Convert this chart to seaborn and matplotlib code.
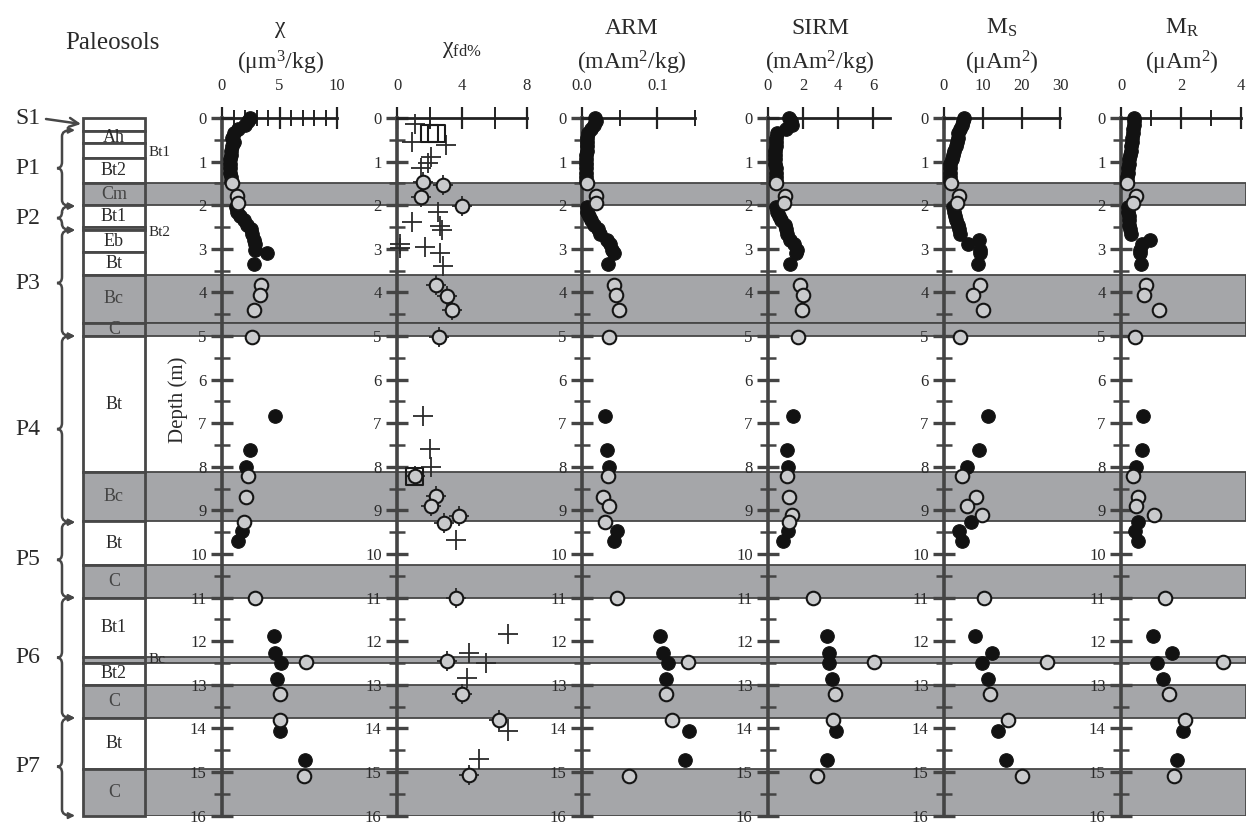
import numpy as np
import matplotlib
matplotlib.use("Agg")
import matplotlib.pyplot as plt
import matplotlib.transforms as mtransforms
from matplotlib.path import Path
from matplotlib.patches import PathPatch, Rectangle
import seaborn as sns

sns.set_theme(style="white")
plt.rcParams['font.family'] = ['Liberation Serif', 'DejaVu Serif']
plt.rcParams['mathtext.fontset'] = 'custom'
plt.rcParams['mathtext.rm'] = 'Liberation Serif'
plt.rcParams['mathtext.it'] = 'Liberation Serif:italic'
plt.rcParams['mathtext.bf'] = 'Liberation Serif:bold'

nan = np.nan

# ---------------- horizons (depth in m) ----------------
HZ_TOP = [0.0, 0.3, 0.58, 0.92, 1.5, 2.0, 2.51, 2.58, 3.07, 3.6, 4.7, 5.0, 8.12, 9.25,
          10.25, 11.0, 12.36, 12.5, 13.0, 13.76, 14.93]
HZ_BOT = HZ_TOP[1:] + [16.0]
HZ_NAME = ['', 'Ah', '', 'Bt2', 'Cm', 'Bt1', '', 'Eb', 'Bt', 'Bc', 'C', 'Bt', 'Bc', 'Bt',
           'C', 'Bt1', '', 'Bt2', 'C', 'Bt', 'C']
HZ_GRAY = [0, 0, 0, 0, 1, 0, 0, 0, 0, 1, 1, 0, 1, 0, 1, 0, 1, 0, 1, 0, 1]
SIDE_NAME = ['Bt1', 'Bt2', 'Bc']
SIDE_DEPTH = [0.8, 2.62, 12.43]

SOIL_NAME = ['P1', 'P2', 'P3', 'P4', 'P5', 'P6', 'P7']
SOIL_TOP = [0.28, 2.02, 2.57, 5.0, 9.27, 11.0, 13.76]
SOIL_BOT = [2.02, 2.57, 5.0, 9.27, 11.0, 13.76, 16.0]

# ---------------- samples ----------------
FILLED_DEPTH = [0.0, 0.08, 0.16, 0.25, 0.35, 0.45, 0.55, 0.65, 0.75, 0.85, 0.95, 1.05, 1.15, 1.25, 1.35, 1.45,
                2.05, 2.15, 2.25, 2.35, 2.45, 2.55,
                2.65, 2.8, 2.9, 3.02, 3.1, 3.35,
                6.83, 7.62, 8.0,
                9.26, 9.47, 9.7,
                11.87, 12.27, 12.5, 12.86,
                14.05, 14.72]
OPEN_DEPTH = [1.5, 1.78, 1.95, 3.83, 4.05, 4.4, 5.03, 8.2, 8.7, 8.89, 9.1, 9.26,
              11.0, 12.47, 13.2, 13.8, 15.1]

CHI_FILLED = [2.4, 2.3, 2.0, 1.4, 1.0, 0.9, 1.0, 0.9, 0.8, 0.8, 0.7, 0.7, 0.7, 0.7, 0.75, 0.8,
              1.2, 1.3, 1.6, 1.9, 2.2, 2.5,
              2.6, 2.8, 2.9, 2.9, 3.9, 2.8,
              4.6, 2.4, 2.1,
              nan, 1.7, 1.4,
              4.5, 4.6, 5.1, 4.8,
              5.0, 7.2]
CHI_OPEN = [0.9, 1.3, 1.4, 3.4, 3.3, 2.8, 2.6, 2.3, 2.1, nan, nan, 1.9,
            2.9, 7.3, 5.0, 5.0, 7.1]

FD_PLUS_DEPTH = [0.14, 0.54, 0.62, 0.89, 1.04, 1.15, 2.15, 2.38, 2.48, 2.57, 2.9, 2.98, 2.95, 3.1, 3.39,
                 6.83, 7.6, 8.0, 9.69, 11.84, 12.28, 12.5, 12.85, 14.05, 14.7]
FD_PLUS = [1.1, 0.9, 3.0, 2.1, 1.9, 1.5, 2.5, 0.9, 2.65, 2.75, 0.2, 0.2, 1.7, 2.65, 2.85,
           1.6, 2.0, 2.1, 3.6, 6.8, 4.4, 5.5, 4.3, 6.85, 5.05]
FD_SQUARE_DEPTH = [0.35, 0.35, 8.22]
FD_SQUARE = [2.0, 2.45, 1.1]
FD_OPEN_DEPTH = [1.46, 1.54, 1.82, 2.02, 3.83, 4.08, 4.4, 5.03, 8.22, 8.68, 8.89, 9.12, 9.28,
                 11.0, 12.45, 13.2, 13.8, 15.07]
FD_OPEN = [1.6, 2.8, 1.5, 4.0, 2.4, 3.1, 3.4, 2.6, 1.1, 2.4, 2.1, 3.8, 2.9,
           3.6, 3.1, 4.0, 6.3, 4.4]

ARM_FILLED = [0.017, 0.019, 0.016, 0.012, 0.008, 0.007, 0.007, 0.006, 0.006, 0.005, 0.005, 0.005, 0.005, 0.005, 0.005, 0.005,
              0.006, 0.007, 0.009, 0.012, 0.016, 0.021,
              0.024, 0.033, 0.037, 0.040, 0.043, 0.035,
              0.030, 0.033, 0.036,
              nan, 0.046, 0.043,
              0.103, 0.108, 0.114, 0.111,
              0.142, 0.137]
ARM_OPEN = [0.006, 0.019, 0.019, 0.042, 0.045, 0.049, 0.036, 0.035, 0.028, 0.036, nan, 0.030,
            0.047, 0.141, 0.111, 0.119, 0.062]

SIRM_FILLED = [1.2, 1.3, 1.35, 1.0, 0.5, 0.45, 0.45, 0.45, 0.4, 0.4, 0.4, 0.4, 0.45, 0.45, 0.45, 0.45,
               0.45, 0.5, 0.6, 0.75, 0.95, 1.0,
               1.1, 1.26, 1.5, 1.64, 1.6, 1.26,
               1.45, 1.1, 1.16,
               nan, 1.16, 0.87,
               3.4, 3.5, 3.5, 3.64,
               3.9, 3.4]
SIRM_OPEN = [0.46, 0.97, 0.91, 1.83, 1.98, 1.93, 1.73, 1.1, 1.22, nan, 1.35, 1.22,
             2.55, 6.06, 3.83, 3.7, 2.82]

MS_FILLED = [5.2, 5.0, 4.6, 4.2, 3.7, 3.5, 3.3, 3.0, 2.6, 2.4, 2.0, 1.6, 1.5, 1.5, 1.5, 1.5,
             2.4, 2.6, 2.8, 3.0, 3.5, 3.8,
             4.1, 9.1, 6.3, 9.2, 9.3, 8.8,
             11.3, 9.1, 5.8,
             6.9, 3.9, 4.7,
             8.0, 12.4, 9.9, 11.3,
             13.8, 15.9]
MS_OPEN = [1.7, 3.9, 3.3, 9.3, 7.4, 10.1, 4.1, 4.6, 8.2, 5.8, 9.9, nan,
           10.4, 26.5, 11.9, 16.6, 20.0]

MR_FILLED = [0.44, 0.43, 0.42, 0.41, 0.39, 0.37, 0.36, 0.34, 0.32, 0.3, 0.28, 0.26, 0.24, 0.22, 0.2, 0.19,
             0.22, 0.24, 0.25, 0.26, 0.28, 0.3,
             0.33, 0.97, 0.69, 0.63, 0.63, 0.67,
             0.74, 0.69, 0.5,
             0.58, 0.47, 0.56,
             1.06, 1.69, 1.21, 1.39,
             2.08, 1.86]
MR_OPEN = [0.19, 0.5, 0.41, 0.82, 0.78, 1.27, 0.47, 0.41, 0.58, 0.5, 1.1, nan,
           1.47, 3.41, 1.61, 2.13, 1.77]

# tick definitions
CHI_TICKS, CHI_LABELS, CHI_MINOR = [0, 5, 10], ['0', '5', '10'], [1, 2, 3, 4, 6, 7, 8, 9]
FD_TICKS, FD_LABELS, FD_MINOR = [0, 4, 8], ['0', '4', '8'], [2, 6]
ARM_TICKS, ARM_LABELS, ARM_MINOR = [0, 0.1], ['0.0', '0.1'], [0.05, 0.15]
SIRM_TICKS, SIRM_LABELS, SIRM_MINOR = [0, 2, 4, 6], ['0', '2', '4', '6'], []
MS_TICKS, MS_LABELS, MS_MINOR = [0, 10, 20, 30], ['0', '10', '20', '30'], []
MR_TICKS, MR_LABELS, MR_MINOR = [0, 2, 4], ['0', '2', '4'], [1, 3]
DEPTH_TICKS = list(range(0, 17))

# ---------------- layout (pixels) ----------------
W, H = 1246, 827
TOP_PX, BOT_PX = 118.0, 815.6
COL_L, COL_R = 83, 145
BAND = '#a5a6a9'
EDGE = '#474747'
TXT = '#2a2a2a'

fig = plt.figure(figsize=(W / 100, H / 100), dpi=100)
fig.patch.set_facecolor('white')


def fx(px):
    return px / W


def fy(py):
    return 1 - py / H


bg = fig.add_axes([fx(COL_L), fy(BOT_PX), (W - COL_L) / W, (BOT_PX - TOP_PX) / H], zorder=0)
bg.set_xlim(0, 1)
bg.set_ylim(16, 0)
bg.axis('off')

ov = fig.add_axes([0, 0, 1, 1], zorder=1)
ov.set_xlim(0, W)
ov.set_ylim(H, 0)
ov.axis('off')
ov.patch.set_alpha(0)

colw = (COL_R - COL_L) / (W - COL_L)
for t, b, name, g in zip(HZ_TOP, HZ_BOT, HZ_NAME, HZ_GRAY):
    if g:
        bg.axhspan(t, b, xmin=0, xmax=1, facecolor=BAND, edgecolor=EDGE, lw=1.3, zorder=1)
    rect = Rectangle((0, t), colw, b - t, facecolor=BAND if g else 'white',
                     edgecolor=EDGE, lw=2.0, zorder=2, clip_on=False)
    bg.add_patch(rect)
    if name:
        tx = bg.text(colw / 2, (t + b) / 2, name, ha='center', va='center', fontsize=13,
                     color='#444444' if g else TXT, zorder=3)
        tx.set_clip_path(rect)
for name, d in zip(SIDE_NAME, SIDE_DEPTH):
    bg.text(colw + 0.003, d, name, ha='left', va='center', fontsize=11, color=TXT, zorder=3)

# braces and paleosol labels
blend = mtransforms.blended_transform_factory(ov.transData, bg.transData)
x_line, x_tip, x_cusp, r = 62, 71, 57, 0.14
for name, t, b in zip(SOIL_NAME, SOIL_TOP, SOIL_BOT):
    m = (t + b) / 2
    verts = [(x_tip, t), (x_line, t), (x_line, t + r), (x_line, m - r),
             (x_line, m), (x_cusp, m), (x_line, m), (x_line, m + r),
             (x_line, b - r), (x_line, b), (x_tip, b)]
    codes = [Path.MOVETO, Path.CURVE3, Path.CURVE3, Path.LINETO,
             Path.CURVE3, Path.CURVE3, Path.CURVE3, Path.CURVE3,
             Path.LINETO, Path.CURVE3, Path.CURVE3]
    ov.add_patch(PathPatch(Path(verts, codes), transform=blend, fill=False,
                           edgecolor=EDGE, lw=1.8, clip_on=False))
    for yy in (t, b):
        ov.annotate('', xy=(x_tip + 4, yy), xycoords=blend, xytext=(x_tip - 2, yy), textcoords=blend,
                    arrowprops=dict(arrowstyle='-|>', lw=1.5, color=EDGE, mutation_scale=9,
                                    shrinkA=0, shrinkB=0))
    ov.text(28, m, name, transform=blend, ha='center', va='center', fontsize=17, color=TXT)

ov.text(28, 118, 'S1', ha='center', va='center', fontsize=17, color=TXT)
ov.annotate('', xy=(81, 124), xytext=(46, 119),
            arrowprops=dict(arrowstyle='->', lw=1.8, color=EDGE, mutation_scale=16,
                            shrinkA=0, shrinkB=0))
ov.text(112, 43, 'Paleosols', ha='center', va='center', fontsize=18, color=TXT)
ov.text(178, 400, 'Depth (m)', ha='center', va='center', rotation=90, fontsize=15, color=TXT)

# titles
TITLES = [
    (280, 'χ', 'μm$^3$/kg'),
    (462, None, None),
    (632, 'ARM', 'mAm$^2$/kg'),
    (820, 'SIRM', 'mAm$^2$/kg'),
    (1002, 'M$_\\mathrm{S}$', 'μAm$^2$'),
    (1182, 'M$_\\mathrm{R}$', 'μAm$^2$'),
]
for x, t1, t2 in TITLES:
    if t1 is None:
        continue
    ov.text(x, 28, t1, ha='center', va='center', fontsize=17, color=TXT)
    ov.text(x, 63, '(' + t2 + ')', ha='center', va='center', fontsize=17, color=TXT)
ov.text(462, 50, 'χ$_\\mathrm{fd\\%}$', ha='center', va='center', fontsize=17, color=TXT)


def make_panel(x0, xmax, ppu, ticks, labels, minor):
    wpx = xmax * ppu
    ax = fig.add_axes([fx(x0), fy(BOT_PX), wpx / W, (BOT_PX - TOP_PX) / H], zorder=2)
    ax.patch.set_alpha(0)
    return ax


def style_panel(ax, xmax, ticks, labels, minor, major_len=16):
    ax.set_xlim(0, xmax)
    ax.set_ylim(16, 0)
    ax.set_xlabel('')
    ax.set_ylabel('')
    ax.grid(False)
    for s in ['right', 'bottom']:
        ax.spines[s].set_visible(False)
    ax.spines['left'].set_color('#444444')
    ax.spines['left'].set_linewidth(2.6)
    ax.spines['top'].set_color('#222222')
    ax.spines['top'].set_linewidth(2.0)
    ax.xaxis.tick_top()
    ax.set_xticks(ticks)
    ax.set_xticklabels(labels)
    ax.set_xticks(minor, minor=True)
    ax.tick_params(axis='x', which='major', direction='inout', length=major_len, width=1.6,
                   color='#222222', pad=9, labelsize=12, labelcolor=TXT, top=True, bottom=False)
    ax.tick_params(axis='x', which='minor', direction='inout', length=12, width=1.4,
                   color='#222222', top=True, bottom=False)
    ax.set_yticks(DEPTH_TICKS)
    ax.set_yticklabels([str(d) for d in DEPTH_TICKS])
    ax.set_yticks(np.arange(0.5, 16, 1.0), minor=True)
    ax.tick_params(axis='y', which='major', direction='inout', length=16, width=2.4,
                   color='#444444', pad=3, labelsize=12, labelcolor=TXT, left=True, right=False)
    ax.tick_params(axis='y', which='minor', direction='inout', length=12, width=1.8,
                   color='#444444', left=True, right=False)


FILLED_KW = dict(color='#121212', s=95, edgecolor='#121212', linewidth=0.8, zorder=5,
                 clip_on=False, legend=False)
OPEN_KW = dict(color='#c9cacc', s=95, edgecolor='#151515', linewidth=1.5, zorder=6,
               clip_on=False, legend=False)

PANELS = [
    (222, 10, 11.5, CHI_TICKS, CHI_LABELS, CHI_MINOR, CHI_FILLED, CHI_OPEN),
    (582, 0.15, 754, ARM_TICKS, ARM_LABELS, ARM_MINOR, ARM_FILLED, ARM_OPEN),
    (768, 7, 17.5, SIRM_TICKS, SIRM_LABELS, SIRM_MINOR, SIRM_FILLED, SIRM_OPEN),
    (944, 30, 3.88, MS_TICKS, MS_LABELS, MS_MINOR, MS_FILLED, MS_OPEN),
    (1121, 4, 30.0, MR_TICKS, MR_LABELS, MR_MINOR, MR_FILLED, MR_OPEN),
]
for x0, xmax, ppu, ticks, labels, minor, fv, ov_ in PANELS:
    ax = make_panel(x0, xmax, ppu, ticks, labels, minor)
    sns.scatterplot(x=fv, y=FILLED_DEPTH, ax=ax, **FILLED_KW)
    sns.scatterplot(x=ov_, y=OPEN_DEPTH, ax=ax, **OPEN_KW)
    style_panel(ax, xmax, ticks, labels, minor)

# chi_fd panel
axf = make_panel(397, 8, 16.25, FD_TICKS, FD_LABELS, FD_MINOR)
sns.scatterplot(x=FD_PLUS, y=FD_PLUS_DEPTH, ax=axf, marker='+', s=190, color='#2a2a2a',
                linewidth=1.3, zorder=4, clip_on=False, legend=False)
sns.scatterplot(x=FD_OPEN, y=FD_OPEN_DEPTH, ax=axf, marker='+', s=190, color='#2a2a2a',
                linewidth=1.3, zorder=4, clip_on=False, legend=False)
axf.scatter(FD_SQUARE, FD_SQUARE_DEPTH, marker='s', s=150, facecolors='none',
            edgecolors='#1a1a1a', linewidths=1.5, zorder=5, clip_on=False)
sns.scatterplot(x=FD_OPEN, y=FD_OPEN_DEPTH, ax=axf, **OPEN_KW)
style_panel(axf, 8, FD_TICKS, FD_LABELS, FD_MINOR)
axf.tick_params(axis='x', which='minor', length=16)

fig.savefig('out.png', dpi=100, facecolor='white')
